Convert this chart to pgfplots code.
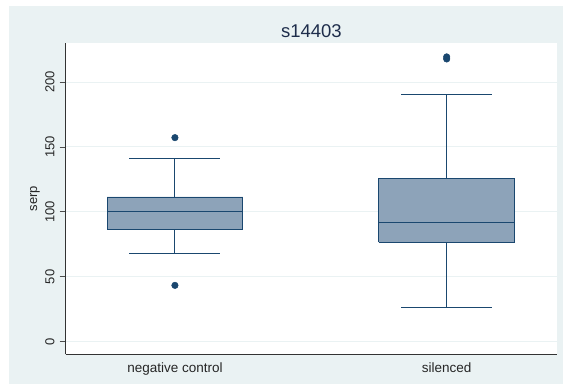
\documentclass[border=0pt]{standalone}
\usepackage{fontspec}
\setmainfont{Liberation Sans}
\usepackage{pgfplots}
\pgfplotsset{compat=1.18}
\definecolor{bgblue}{RGB}{234,242,243}
\definecolor{navy}{RGB}{26,71,111}
\definecolor{boxfill}{RGB}{141,163,185}
\definecolor{gridc}{RGB}{234,242,243}
\definecolor{titlec}{RGB}{30,45,75}
\begin{document}
\begin{tikzpicture}
\fill[white] (0pt,0pt) rectangle (563pt,385pt);
\fill[bgblue] (9pt,1pt) rectangle (563pt,379pt);
\begin{axis}[
  at={(65.7pt,30.7pt)}, anchor=south west,
  scale only axis, width=491.3pt, height=311.3pt,
  xmin=0.598, xmax=2.406, ymin=-9.7, ymax=230.1,
  axis x line*=bottom, axis y line*=left,
  axis line style={draw=black!80, line width=0.8pt},
  axis background/.style={fill=white},
  ytick={0,50,100,150,200},
  xtick={1,2}, xticklabels={negative control, silenced},
  tick align=outside, major tick length=6pt,
  y tick style={draw=black!70, line width=0.8pt},
  x tick style={draw=none},
  ymajorgrids, major grid style={draw=gridc, line width=1pt},
  yticklabel style={rotate=90, anchor=south, inner sep=5pt, font=\fontsize{13}{15}\selectfont, text=black!85},
  yticklabel={\pgfmathprintnumber[assume math mode=true]{\tick}},
  xticklabel style={font=\fontsize{13.5}{15}\selectfont, text=black!85, inner sep=0pt, yshift=-2pt},
  ylabel={serp},
  every axis y label/.style={at={(axis description cs:-0.0625,0.5)}, rotate=90, anchor=center, font=\fontsize{13}{15}\selectfont, text=black!85},
  clip=false,
]
% negative control
\addplot[draw=navy, fill=boxfill, line width=0.9pt, line join=miter] coordinates {(0.75,86.6) (1.25,86.6) (1.25,111.5) (0.75,111.5) (0.75,86.6)};
\addplot[draw=navy, line width=1pt] coordinates {(0.75,100.2) (1.25,100.2)};
\addplot[draw=navy, line width=0.9pt] coordinates {(1,111.5) (1,141.3)};
\addplot[draw=navy, line width=0.9pt] coordinates {(0.8325,141.3) (1.1675,141.3)};
\addplot[draw=navy, line width=0.9pt] coordinates {(1,86.6) (1,68.3)};
\addplot[draw=navy, line width=0.9pt] coordinates {(0.8325,68.3) (1.1675,68.3)};
\addplot[only marks, mark=*, mark size=3.3pt, mark options={fill=navy, draw=navy}] coordinates {(1,157.2) (1,43.4)};
% silenced
\addplot[draw=navy, fill=boxfill, line width=0.9pt, line join=miter] coordinates {(1.75,76.8) (2.25,76.8) (2.25,125.9) (1.75,125.9) (1.75,76.8)};
\addplot[draw=navy, line width=1pt] coordinates {(1.75,92.2) (2.25,92.2)};
\addplot[draw=navy, line width=0.9pt] coordinates {(2,125.9) (2,190.1)};
\addplot[draw=navy, line width=0.9pt] coordinates {(1.8325,190.1) (2.1675,190.1)};
\addplot[draw=navy, line width=0.9pt] coordinates {(2,76.8) (2,26.2)};
\addplot[draw=navy, line width=0.9pt] coordinates {(1.8325,26.2) (2.1675,26.2)};
\addplot[only marks, mark=*, mark size=3.3pt, mark options={fill=navy, draw=navy}] coordinates {(2,217.8) (2,219.4)};
\end{axis}
\node[text=titlec, font=\fontsize{18.5}{20}\selectfont] at (311.4pt,354pt) {s14403};
\end{tikzpicture}
\end{document}
